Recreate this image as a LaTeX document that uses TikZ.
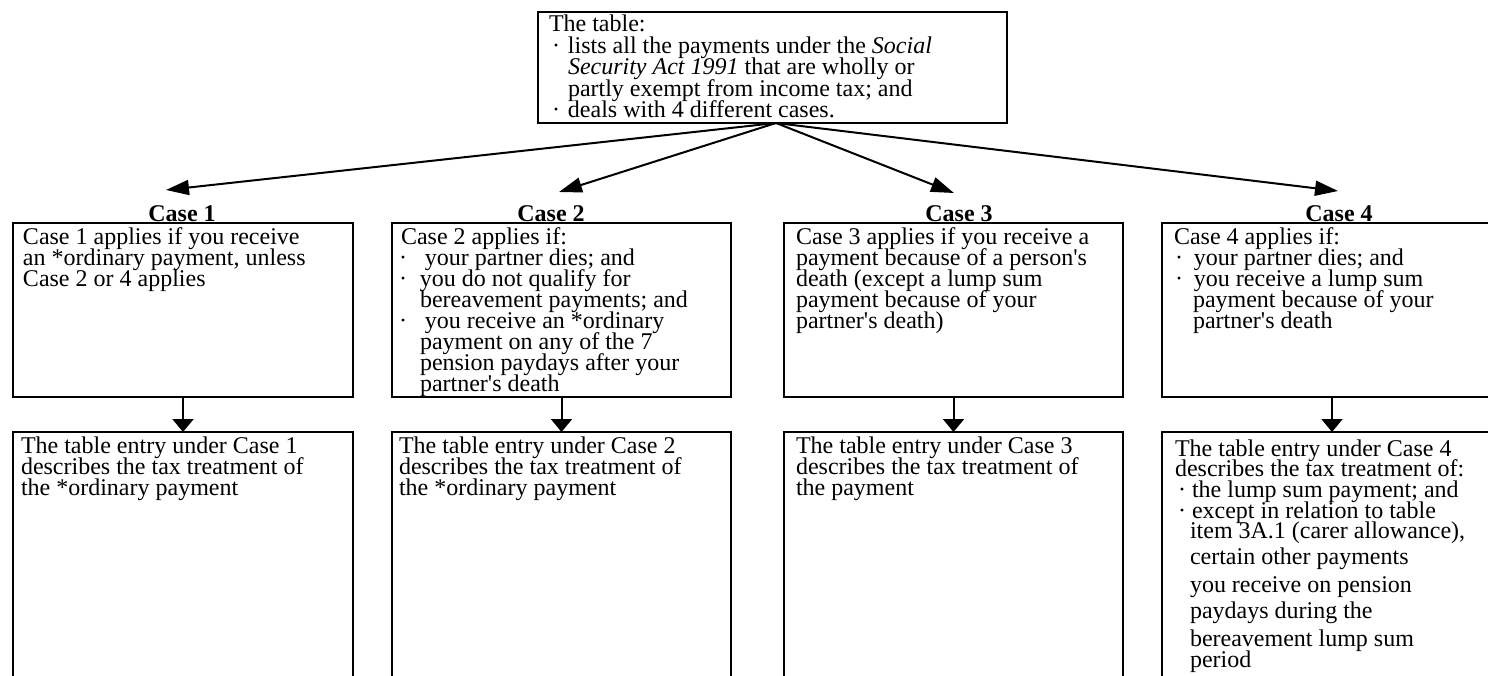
\documentclass[tikz,border=0pt]{standalone}
\usepackage{fontspec}
\setmainfont{Liberation Serif}
\usetikzlibrary{arrows.meta}
\newcommand{\st}{\rule{0pt}{17pt}}
\newcommand{\bu}[1]{\makebox[#1][l]{·}}
\newcommand{\ap}{\textquotesingle}
\newcommand{\myfont}[1]{\fontsize{24pt}{#1}\selectfont\lineskiplimit-50pt\relax}
\tikzset{
  box/.style={draw, line width=2pt, rectangle, inner sep=0pt, outer sep=0pt, anchor=north west},
  txt/.style={anchor=north west, inner sep=0pt, outer sep=0pt, align=left, font=\myfont{21pt}},
  ttl/.style={anchor=base, inner sep=0pt, font=\myfont{21pt}\bfseries},
  fan/.style={line width=2pt, -{Triangle[length=23pt,width=15pt]}},
  down/.style={line width=2pt, -{Triangle[length=13pt,width=21pt]}},
}
\begin{document}
\begin{tikzpicture}[x=1pt,y=-1pt]
\useasboundingbox (0,0) rectangle (1488,675);

% top box
\node[box, line width=2.5pt, minimum width=469pt, minimum height=111pt] (top) at (538,12) {};
\node[txt, font=\myfont{21.5pt}] (toptxt) at (549,14.5) {\st The table:\\
\hspace*{3pt}\bu{16pt}lists all the payments under the \textit{Social}\\
\hspace*{19pt}\textit{Security Act 1991} that are wholly or\\
\hspace*{19pt}partly exempt from income tax; and\\
\hspace*{3pt}\bu{16pt}deals with 4 different cases.};

% titles
\node[ttl] (t1) at (182,221) {Case 1};
\node[ttl] (t2) at (551,221) {Case 2};
\node[ttl] (t3) at (959,221) {Case 3};
\node[ttl] (t4) at (1339,221) {Case 4};

% upper boxes
\node[box, minimum width=340pt, minimum height=174pt] (u1) at (13,223) {};
\node[box, minimum width=339pt, minimum height=174pt] (u2) at (392,223) {};
\node[box, minimum width=339pt, minimum height=174pt] (u3) at (784,223) {};
\node[box, minimum width=340pt, minimum height=174pt] (u4) at (1162,223) {};

% lower boxes
\node[box, minimum width=340pt, minimum height=280pt] (l1) at (13,432) {};
\node[box, minimum width=339pt, minimum height=280pt] (l2) at (392,432) {};
\node[box, minimum width=339pt, minimum height=280pt] (l3) at (784,432) {};
\node[box, minimum width=340pt, minimum height=280pt] (l4) at (1162,432) {};

% upper texts
\node[txt] (u1t) at (23,227) {\st Case 1 applies if you receive\\
an *ordinary payment, unless\\
Case 2 or 4 applies};

\node[txt] (u2t) at (399,227) {\st\hspace*{2pt}Case 2 applies if:\\
\bu{26pt}your partner dies; and\\
\bu{21pt}you do not qualify for\\
\hspace*{21pt}bereavement payments; and\\
\bu{26pt}you receive an *ordinary\\
\hspace*{21pt}payment on any of the 7\\
\hspace*{21pt}pension paydays after your\\
\hspace*{21pt}partner\ap s death};

\node[txt] (u3t) at (796,227) {\st Case 3 applies if you receive a\\
payment because of a person\ap s\\
death (except a lump sum\\
payment because of your\\
partner\ap s death)};

\node[txt] (u4t) at (1174,227) {\st Case 4 applies if:\\
\hspace*{1pt}\bu{19pt}your partner dies; and\\
\hspace*{1pt}\bu{19pt}you receive a lump sum\\
\hspace*{19pt}payment because of your\\
\hspace*{19pt}partner\ap s death};

% lower texts
\node[txt] (l1t) at (21,436) {\st The table entry under Case 1\\
describes the tax treatment of\\
the *ordinary payment};

\node[txt] (l2t) at (399,436) {\st The table entry under Case 2\\
describes the tax treatment of\\
the *ordinary payment};

\node[txt] (l3t) at (796,436) {\st The table entry under Case 3\\
describes the tax treatment of\\
the payment};

\node[txt, font=\myfont{20.7pt}] (l4t) at (1175,439) {\st The table entry under Case 4\\
describes the tax treatment of:\\
\hspace*{3pt}\bu{14pt}the lump sum payment; and\\
\hspace*{3pt}\bu{14pt}except in relation to table\\
\hspace*{15pt}item 3A.1 (carer allowance),\\[5.3pt]
\hspace*{15pt}certain other payments\\[7.3pt]
\hspace*{15pt}you receive on pension\\[5.3pt]
\hspace*{15pt}paydays during the\\[7.3pt]
\hspace*{15pt}bereavement lump sum\\
\hspace*{15pt}period};

% fan arrows
\coordinate (src) at (776,123);
\coordinate (e1) at (166,190);
\coordinate (e2) at (559,192);
\coordinate (e3) at (954,193);
\coordinate (e4) at (1338,191);
\draw[fan] (src) -- (e1);
\draw[fan] (src) -- (e2);
\draw[fan] (src) -- (e3);
\draw[fan] (src) -- (e4);

% down arrows
\draw[down] (u1.south) -- (l1.north);
\draw[down] (u2.south) -- (l2.north);
\draw[down] (u3.south) -- (l3.north);
\draw[down] (u4.south) -- (l4.north);
\end{tikzpicture}
\end{document}
